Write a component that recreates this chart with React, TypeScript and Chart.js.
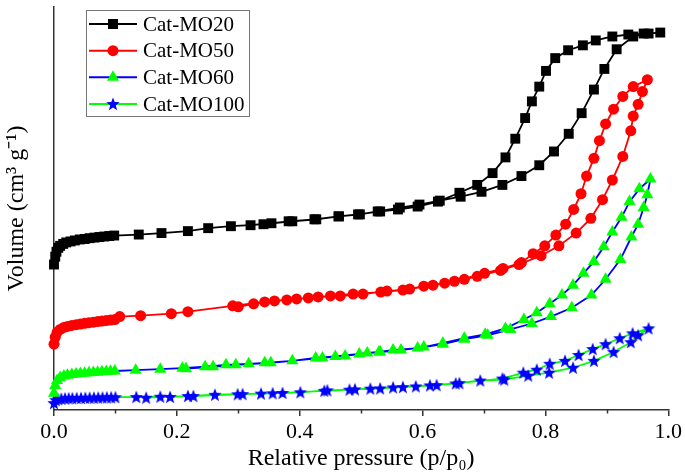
import React, { useEffect, useRef } from "react";
import { Chart, registerables } from "chart.js";

Chart.register(...registerables);

const FONT = "'Times New Roman', 'Liberation Serif', Times, serif";

// Relative pressure p/p0 and volume (arbitrary units)
const mo20AdsP = [0.000, 0.002, 0.004, 0.007, 0.010, 0.015, 0.020, 0.027, 0.034, 0.042, 0.050, 0.058, 0.066, 0.074, 0.082, 0.090, 0.098, 0.138, 0.175, 0.218, 0.251, 0.288, 0.320, 0.354, 0.388, 0.427, 0.464, 0.498, 0.527, 0.563, 0.595, 0.628, 0.662, 0.696, 0.730, 0.761, 0.790, 0.814, 0.838, 0.859, 0.879, 0.896, 0.916, 0.943, 0.968, 0.987];
const mo20AdsV = [148, 156, 161, 165, 167, 169, 170.5, 171.5, 172.5, 173.5, 174, 174.8, 175.4, 176, 176.5, 177, 177.5, 178.5, 180, 182, 185, 187, 188, 190, 192, 194, 197, 199, 202, 206, 209, 213, 217, 222, 229, 238, 249, 263, 281, 302, 326, 347, 367, 380, 383, 384];
const mo20DesP = [0.960, 0.935, 0.909, 0.882, 0.861, 0.837, 0.816, 0.801, 0.790, 0.778, 0.767, 0.751, 0.735, 0.714, 0.689, 0.660, 0.625, 0.592, 0.560, 0.531, 0.495, 0.463, 0.424, 0.382, 0.341];
const mo20DesV = [383, 382, 380, 376, 371, 366, 358, 345, 329, 314, 297, 276, 257, 241, 229, 221, 212, 207, 204, 202, 199, 197, 194, 192, 189];

const mo50AdsP = [0.000, 0.002, 0.005, 0.010, 0.016, 0.022, 0.029, 0.036, 0.043, 0.050, 0.057, 0.064, 0.071, 0.078, 0.085, 0.092, 0.099, 0.107, 0.141, 0.191, 0.218, 0.291, 0.343, 0.379, 0.414, 0.450, 0.487, 0.532, 0.568, 0.602, 0.636, 0.668, 0.689, 0.727, 0.757, 0.793, 0.822, 0.850, 0.874, 0.893, 0.909, 0.926, 0.939, 0.943, 0.951, 0.958, 0.966];
const mo50AdsV = [67, 74, 79, 82, 84, 85, 86, 86.8, 87.5, 88.2, 88.8, 89.4, 90, 90.5, 91, 91.5, 92, 95, 96, 98, 100, 106, 110, 112, 114, 116, 118, 120, 122, 126, 129, 133, 136, 142, 148, 157, 167, 180, 195, 214, 234, 258, 284, 299, 311, 324, 336];
const mo50DesP = [0.943, 0.926, 0.911, 0.898, 0.888, 0.879, 0.867, 0.858, 0.846, 0.833, 0.817, 0.799, 0.780, 0.761, 0.731, 0.701, 0.652, 0.617, 0.579, 0.542, 0.503, 0.466, 0.430, 0.395, 0.359, 0.325, 0.300];
const mo50DesV = [329, 319, 306, 291, 274, 256, 238, 220, 204, 189, 178, 167, 159, 150, 144, 139, 131, 127, 123, 121, 118, 116, 115, 113, 111, 108, 105];

const mo60AdsP = [0.000, 0.002, 0.005, 0.010, 0.016, 0.022, 0.029, 0.036, 0.043, 0.050, 0.057, 0.064, 0.071, 0.078, 0.085, 0.092, 0.099, 0.133, 0.173, 0.209, 0.246, 0.280, 0.317, 0.343, 0.388, 0.426, 0.458, 0.497, 0.529, 0.552, 0.592, 0.633, 0.668, 0.706, 0.743, 0.778, 0.809, 0.843, 0.875, 0.898, 0.922, 0.940, 0.951, 0.960, 0.966, 0.971];
const mo60AdsV = [17, 25, 30, 33, 34.5, 35.3, 36, 36.6, 37.1, 37.5, 37.9, 38.2, 38.5, 38.8, 39.1, 39.4, 39.7, 40.5, 41.5, 42.5, 44, 46, 47, 48, 50, 53, 54.5, 57, 59, 61, 63, 67, 72, 76, 82, 88, 95, 104, 117, 133, 153, 176, 189, 206, 219, 235];
const mo60DesP = [0.953, 0.937, 0.924, 0.909, 0.895, 0.879, 0.862, 0.845, 0.827, 0.807, 0.786, 0.765, 0.735, 0.702, 0.668, 0.633, 0.602, 0.565, 0.531, 0.510, 0.474, 0.437, 0.353, 0.296, 0.259, 0.215];
const mo60DesV = [225, 212, 196, 181, 166, 151, 139, 127, 117, 108, 99, 92, 83, 77, 73, 68, 64, 61, 59, 58, 55, 53, 48, 46, 44, 42];

const mo100AdsP = [0.000, 0.003, 0.007, 0.012, 0.018, 0.024, 0.030, 0.037, 0.044, 0.051, 0.058, 0.065, 0.072, 0.079, 0.086, 0.093, 0.100, 0.134, 0.173, 0.218, 0.262, 0.299, 0.337, 0.372, 0.401, 0.445, 0.481, 0.515, 0.552, 0.589, 0.623, 0.660, 0.694, 0.733, 0.772, 0.806, 0.845, 0.879, 0.911, 0.939, 0.951, 0.968];
const mo100AdsV = [7, 10, 11, 11.4, 11.7, 11.9, 12, 12.1, 12.2, 12.3, 12.4, 12.5, 12.6, 12.7, 12.8, 12.9, 13, 13.2, 13.5, 14.2, 15.5, 16, 16.7, 17.3, 18, 20, 20.7, 21.7, 23, 24, 25.3, 27.3, 30, 31, 35, 38, 43, 50, 59, 69, 76, 83];
const mo100DesP = [0.942, 0.921, 0.898, 0.877, 0.854, 0.832, 0.807, 0.786, 0.764, 0.730, 0.654, 0.612, 0.568, 0.531, 0.490, 0.440, 0.356, 0.307, 0.227, 0.189, 0.150];
const mo100DesV = [78, 73, 67, 62, 56, 50, 47, 41, 38, 32, 27, 25, 23.3, 22, 21, 19.5, 17, 16.2, 14.2, 13.3, 12.5];

const X_TICKS = [0, 0.2, 0.4, 0.6, 0.8, 1.0];
const X_MINOR = [0.1, 0.3, 0.5, 0.7, 0.9];

const SERIES_NAMES = ["Cat-MO20", "Cat-MO50", "Cat-MO60", "Cat-MO100"];
const LINE_COLORS = ["#000000", "#ff0000", "#0000ff", "#00ff00"];
const MARKER_COLORS = ["#000000", "#ff0000", "#00ff00", "#0000ff"];

function pts(p: number[], v: number[]) {
  return p.map((x, i) => ({ x, y: v[i] }));
}

function makeStar(color: string, r: number) {
  const c = document.createElement("canvas");
  const s = Math.ceil(r * 2 + 2);
  c.width = s;
  c.height = s;
  const ctx = c.getContext("2d")!;
  ctx.fillStyle = color;
  ctx.beginPath();
  for (let i = 0; i < 10; i++) {
    const rad = i % 2 === 0 ? r : r * 0.42;
    const a = -Math.PI / 2 + (i * Math.PI) / 5;
    const x = s / 2 + rad * Math.cos(a);
    const y = s / 2 + rad * Math.sin(a) + 0.5;
    if (i === 0) ctx.moveTo(x, y);
    else ctx.lineTo(x, y);
  }
  ctx.closePath();
  ctx.fill();
  return c;
}

function drawMarker(ctx: CanvasRenderingContext2D, kind: number, x: number, y: number, star: HTMLCanvasElement) {
  ctx.fillStyle = MARKER_COLORS[kind];
  ctx.beginPath();
  if (kind === 0) {
    ctx.rect(x - 5, y - 5, 10, 10);
    ctx.fill();
  } else if (kind === 1) {
    ctx.arc(x, y, 5.5, 0, Math.PI * 2);
    ctx.fill();
  } else if (kind === 2) {
    const r = 7;
    ctx.moveTo(x, y - r);
    ctx.lineTo(x + r * Math.sin(Math.PI * 2 / 3), y + r / 2);
    ctx.lineTo(x - r * Math.sin(Math.PI * 2 / 3), y + r / 2);
    ctx.closePath();
    ctx.fill();
  } else {
    ctx.drawImage(star, x - star.width / 2, y - star.height / 2);
  }
}

export default function App() {
  const ref = useRef<HTMLCanvasElement | null>(null);

  useEffect(() => {
    if (!ref.current) return;
    const star = makeStar("#0000ff", 7);

    const extras = {
      id: "extras",
      afterDraw(chart: any) {
        const ctx: CanvasRenderingContext2D = chart.ctx;
        const xs = chart.scales.x;
        const bottom = chart.chartArea.bottom;
        ctx.save();
        // minor ticks
        ctx.strokeStyle = "#333";
        ctx.lineWidth = 1.5;
        X_MINOR.forEach((v) => {
          const px = Math.round(xs.getPixelForValue(v)) + 0.5;
          ctx.beginPath();
          ctx.moveTo(px, bottom);
          ctx.lineTo(px, bottom + 3.5);
          ctx.stroke();
        });
        // legend
        const bx = 86.5, by = 10.5, bw = 163, bh = 106;
        ctx.fillStyle = "#fff";
        ctx.fillRect(bx, by, bw, bh);
        ctx.strokeStyle = "#777";
        ctx.lineWidth = 1;
        ctx.strokeRect(bx, by, bw, bh);
        const rows = [24, 50.7, 77.3, 104];
        ctx.font = `21px ${FONT}`;
        ctx.textBaseline = "middle";
        SERIES_NAMES.forEach((name, i) => {
          const y = rows[i];
          ctx.strokeStyle = LINE_COLORS[i];
          ctx.lineWidth = 2;
          ctx.beginPath();
          ctx.moveTo(89, y);
          ctx.lineTo(137, y);
          ctx.stroke();
          drawMarker(ctx, i, 113, y, star);
          ctx.fillStyle = "#000";
          ctx.fillText(name, 143, y + 1);
        });
        ctx.restore();
      },
    };

    const common = { borderWidth: 1.8, tension: 0, clip: false as any, pointBorderWidth: 0 };

    const chart = new Chart(ref.current, {
      type: "line",
      data: {
        datasets: [
          {
            label: SERIES_NAMES[0],
            data: [...pts(mo20AdsP, mo20AdsV), ...pts(mo20DesP, mo20DesV)],
            borderColor: LINE_COLORS[0],
            backgroundColor: MARKER_COLORS[0],
            pointBackgroundColor: MARKER_COLORS[0],
            pointBorderColor: MARKER_COLORS[0],
            pointStyle: "rect",
            pointRadius: 7,
            ...common,
          },
          {
            label: SERIES_NAMES[1],
            data: [...pts(mo50AdsP, mo50AdsV), ...pts(mo50DesP, mo50DesV)],
            borderColor: LINE_COLORS[1],
            backgroundColor: MARKER_COLORS[1],
            pointBackgroundColor: MARKER_COLORS[1],
            pointBorderColor: MARKER_COLORS[1],
            pointStyle: "circle",
            pointRadius: 5.5,
            ...common,
          },
          {
            label: SERIES_NAMES[2],
            data: [...pts(mo60AdsP, mo60AdsV), ...pts(mo60DesP, mo60DesV)],
            borderColor: LINE_COLORS[2],
            backgroundColor: MARKER_COLORS[2],
            pointBackgroundColor: MARKER_COLORS[2],
            pointBorderColor: MARKER_COLORS[2],
            pointStyle: "triangle",
            pointRadius: 7,
            ...common,
          },
          {
            label: SERIES_NAMES[3],
            data: [...pts(mo100AdsP, mo100AdsV), ...pts(mo100DesP, mo100DesV)],
            borderColor: LINE_COLORS[3],
            backgroundColor: MARKER_COLORS[3],
            pointBackgroundColor: MARKER_COLORS[3],
            pointBorderColor: MARKER_COLORS[3],
            pointStyle: star as any,
            pointRadius: 7,
            ...common,
          },
        ],
      },
      options: {
        animation: false,
        responsive: false,
        devicePixelRatio: 1,
        layout: { padding: { left: 0, right: 13, top: 0, bottom: 0 } },
        plugins: { legend: { display: false }, tooltip: { enabled: false } },
        events: [],
        scales: {
          x: {
            type: "linear",
            min: 0,
            max: 1,
            afterBuildTicks: (s: any) => {
              s.ticks = X_TICKS.map((v) => ({ value: v }));
            },
            afterFit: (s: any) => {
              s.height = 66;
            },
            ticks: {
              autoSkip: false,
              maxRotation: 0,
              padding: 3,
              color: "#000",
              font: { family: FONT, size: 22 },
              callback: (v: any) => Number(v).toFixed(1),
            },
            grid: { drawOnChartArea: false, drawTicks: true, tickLength: 6, color: "#333", lineWidth: 1.5 },
            border: { display: true, color: "#333", width: 1.5 },
            title: {
              display: true,
              text: "Relative pressure (p/p₀)",
              color: "#000",
              font: { family: FONT, size: 24 },
              padding: { top: 0, bottom: 3 },
            },
          },
          y: {
            type: "linear",
            min: 0,
            max: 410,
            afterFit: (s: any) => {
              s.width = 54;
            },
            ticks: { display: false },
            grid: { display: false },
            border: { display: true, color: "#333", width: 1.5 },
            title: {
              display: true,
              text: "Volume (cm³ g⁻¹)",
              color: "#000",
              font: { family: FONT, size: 24 },
              padding: { top: 2, bottom: 0 },
            },
          },
        },
      },
      plugins: [extras],
    });

    return () => chart.destroy();
  }, []);

  return (
    <div style={{ position: "absolute", left: 0, top: 0, width: 685, height: 476 }}>
      <canvas ref={ref} width={685} height={476} style={{ display: "block" }} />
    </div>
  );
}
